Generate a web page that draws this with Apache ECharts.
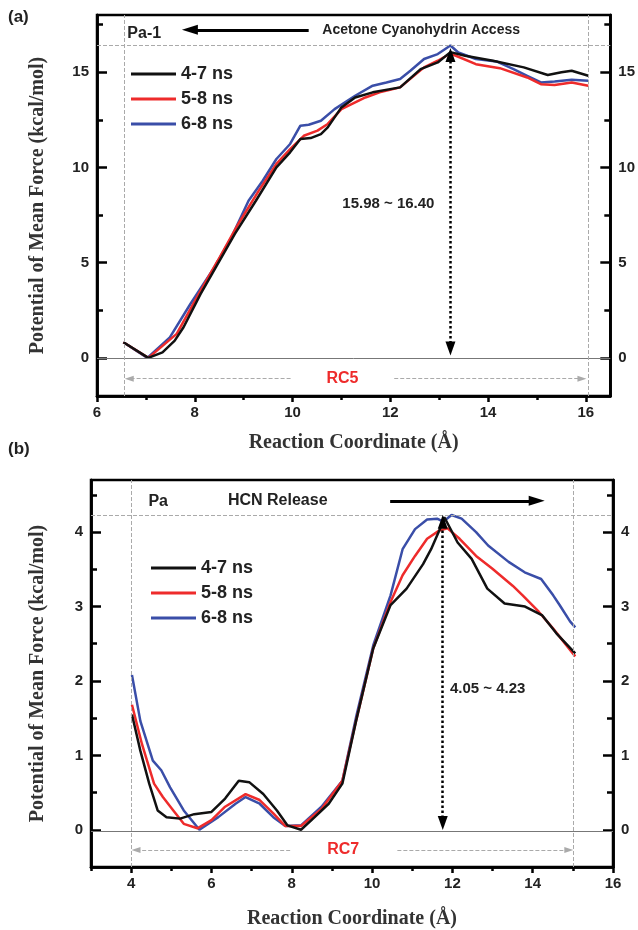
<!DOCTYPE html>
<html>
<head>
<meta charset="utf-8">
<script src="https://cdn.jsdelivr.net/npm/echarts@6/dist/echarts.min.js"></script>
<style>
  html, body { margin: 0; padding: 0; background: #fff; }
  #chart { width: 638px; height: 930px; }
</style>
</head>
<body>
<div id="chart"></div>
<script>
// ---- panel (a): Pa-1, RC5 ----
const aBlackX = [6.54, 7.05, 7.34, 7.59, 7.77, 8.12, 8.47, 8.82, 9.25, 9.67, 9.95, 10.16, 10.37, 10.58, 10.72, 11.0, 11.28, 11.64, 12.2, 12.62, 12.97, 13.23, 13.53, 14.1, 14.73, 15.22, 15.5, 15.71, 16.05];
const aBlackY = [0.82, 0.0, 0.29, 0.91, 1.61, 3.36, 4.93, 6.51, 8.25, 10.0, 10.79, 11.49, 11.54, 11.75, 12.1, 13.15, 13.67, 13.94, 14.2, 15.16, 15.51, 16.05, 15.86, 15.6, 15.25, 14.85, 14.99, 15.07, 14.81];
const aRedX = [6.54, 7.05, 7.63, 8.12, 8.47, 8.89, 9.31, 9.67, 9.95, 10.23, 10.51, 10.72, 11.0, 11.49, 11.78, 12.2, 12.69, 12.97, 13.23, 13.75, 14.24, 14.8, 15.08, 15.36, 15.71, 16.05];
const aRedY = [0.82, 0.0, 1.26, 3.53, 5.1, 7.03, 8.78, 10.18, 10.96, 11.66, 11.93, 12.28, 13.06, 13.67, 13.94, 14.2, 15.25, 15.6, 15.98, 15.42, 15.21, 14.72, 14.37, 14.32, 14.46, 14.29];
const aBlueX = [6.54, 7.03, 7.49, 7.91, 8.4, 8.75, 9.1, 9.39, 9.67, 9.95, 10.16, 10.33, 10.58, 10.86, 11.28, 11.64, 11.92, 12.2, 12.41, 12.69, 12.97, 13.23, 13.39, 13.75, 14.17, 14.52, 14.8, 15.08, 15.36, 15.71, 16.05];
const aBlueY = [0.82, 0.0, 1.08, 2.83, 4.75, 6.33, 8.25, 9.3, 10.44, 11.23, 12.19, 12.24, 12.45, 13.06, 13.76, 14.29, 14.46, 14.64, 15.07, 15.69, 15.95, 16.4, 16.03, 15.69, 15.56, 15.16, 14.81, 14.46, 14.51, 14.6, 14.55];

// ---- panel (b): Pa, RC7 ----
const bBlackX = [4.02, 4.23, 4.45, 4.66, 4.88, 5.22, 5.57, 6.0, 6.34, 6.68, 6.94, 7.29, 7.63, 7.89, 8.23, 8.57, 8.92, 9.26, 9.6, 10.03, 10.46, 10.86, 11.27, 11.47, 11.72, 11.8, 12.13, 12.48, 12.87, 13.3, 13.81, 14.24, 14.59, 15.06];
const bBlackY = [1.55, 1.06, 0.62, 0.26, 0.17, 0.15, 0.21, 0.24, 0.42, 0.66, 0.64, 0.48, 0.26, 0.06, 0.0, 0.17, 0.35, 0.62, 1.46, 2.44, 3.02, 3.24, 3.57, 3.77, 4.08, 4.2, 3.86, 3.64, 3.24, 3.04, 3.0, 2.88, 2.64, 2.37];
const bRedX = [4.02, 4.27, 4.57, 4.79, 5.05, 5.31, 5.65, 6.0, 6.34, 6.85, 7.2, 7.54, 7.84, 8.23, 8.74, 9.26, 9.6, 10.03, 10.46, 10.76, 11.07, 11.37, 11.67, 11.88, 12.18, 12.59, 12.99, 13.5, 13.75, 14.15, 14.5, 15.06];
const bRedY = [1.68, 1.15, 0.62, 0.44, 0.26, 0.08, 0.02, 0.13, 0.31, 0.48, 0.4, 0.22, 0.05, 0.05, 0.28, 0.66, 1.46, 2.44, 3.06, 3.42, 3.68, 3.91, 4.02, 4.05, 3.91, 3.68, 3.51, 3.28, 3.15, 2.93, 2.71, 2.33];
const bBlueX = [4.02, 4.23, 4.54, 4.75, 4.97, 5.31, 5.7, 6.17, 6.6, 6.85, 7.2, 7.54, 7.84, 8.23, 8.74, 9.26, 9.6, 10.03, 10.46, 10.76, 11.07, 11.37, 11.62, 11.77, 11.98, 12.23, 12.59, 12.89, 13.4, 13.8, 14.21, 14.51, 14.67, 14.93, 15.06];
const bBlueY = [2.08, 1.46, 0.93, 0.8, 0.57, 0.26, 0.0, 0.17, 0.35, 0.44, 0.35, 0.17, 0.05, 0.06, 0.31, 0.66, 1.51, 2.48, 3.15, 3.77, 4.04, 4.17, 4.18, 4.14, 4.23, 4.18, 4.0, 3.82, 3.6, 3.46, 3.37, 3.15, 3.02, 2.8, 2.72];

// ---- ticks ----
const aYTicks = [0, 5, 10, 15];
const aYMinor = [2.5, 7.5, 12.5, 17.5];
const aXTicks = [6, 8, 10, 12, 14, 16];
const aXMinor = [7, 9, 11, 13, 15];
const bYTicks = [0, 1, 2, 3, 4];
const bYMinor = [0.5, 1.5, 2.5, 3.5, 4.5];
const bXTicks = [4, 6, 8, 10, 12, 14, 16];
const bXMinor = [3, 5, 7, 9, 11, 13, 15];

const seriesNames = ['4-7 ns', '5-8 ns', '6-8 ns'];
const seriesColors = ['#111111', '#ee2b2b', '#3a4ea8'];

const sans = '"Liberation Sans", Arial, sans-serif';
const serif = '"Liberation Serif", "Times New Roman", serif';

const chart = echarts.init(document.getElementById('chart'));

const zip = (xs, ys) => xs.map((x, i) => [x, ys[i]]);

const frameLine = () => ({ show: true, onZero: false, lineStyle: { color: '#000', width: 2.5 } });
const tick = (values, len, inside) => ({ show: true, inside, customValues: values.slice(), length: len, lineStyle: { color: '#000', width: 2.5 } });
const tickLabel = (values, margin) => ({ customValues: values.slice(), margin, color: '#222', fontFamily: sans, fontWeight: 'bold', fontSize: 15 });
const titleStyle = () => ({ fontFamily: serif, fontWeight: 'bold', fontSize: 20, color: '#333' });
const noSplit = () => ({ show: true, lineStyle: { color: 'rgba(0,0,0,0)' } });

function makeXAxes(grid, min, max, major, minor, nameGap) {
  return [
    {
      gridIndex: grid, type: 'value', min, max, position: 'bottom',
      axisLine: frameLine(),
      axisTick: tick(major, 6, false),
      axisLabel: tickLabel(major, 9),
      splitLine: noSplit(),
      name: 'Reaction Coordinate (Å)', nameLocation: 'middle', nameGap,
      nameTextStyle: titleStyle()
    },
    {
      gridIndex: grid, type: 'value', min, max, position: 'bottom',
      axisLine: frameLine(),
      axisTick: tick(minor, 4, false),
      axisLabel: { show: false },
      splitLine: noSplit()
    }
  ];
}

function makeYAxes(grid, min, max, major, minor, nameGap) {
  const base = () => ({ gridIndex: grid, type: 'value', min, max, splitLine: noSplit(), axisLine: frameLine() });
  return [
    {
      ...base(), position: 'left', axisTick: tick(major, 10, true), axisLabel: tickLabel(major, 8),
      name: 'Potential of Mean Force (kcal/mol)', nameLocation: 'middle', nameGap, nameRotate: 90,
      nameTextStyle: titleStyle()
    },
    { ...base(), position: 'right', axisTick: tick(major, 10, true), axisLabel: tickLabel(major, 8) },
    { ...base(), position: 'left', axisTick: tick(minor, 6, true), axisLabel: { show: false } },
    { ...base(), position: 'right', axisTick: tick(minor, 6, true), axisLabel: { show: false } }
  ];
}

const guide = () => ({ color: '#aaa', width: 1, type: 'dashed' });

function arrow(from, to, style, size, both) {
  return [
    { coord: from, symbol: both ? 'triangle' : 'none', symbolSize: size, lineStyle: style },
    { coord: to, symbol: 'triangle', symbolSize: size }
  ];
}

const aMarks = [
  { yAxis: 0, lineStyle: { color: '#777', width: 1, type: 'solid' } },
  { yAxis: 16.4, lineStyle: guide() },
  { xAxis: 6.55, lineStyle: guide() },
  { xAxis: 16.05, lineStyle: guide() },
  arrow([13.23, 0.5], [13.23, 15.9], { color: '#000', width: 2.5, type: 'dotted' }, [10, 14], true),
  arrow([10.33, 17.22], [7.9, 17.22], { color: '#000', width: 3, type: 'solid' }, [10, 16], false),
  arrow([9.96, -1.09], [6.66, -1.09], guide(), [6, 9], false),
  arrow([12.08, -1.09], [15.92, -1.09], guide(), [6, 9], false)
];

const bMarks = [
  { yAxis: -0.02, lineStyle: { color: '#777', width: 1, type: 'solid' } },
  { yAxis: 4.23, lineStyle: guide() },
  { xAxis: 4.0, lineStyle: guide() },
  { xAxis: 15.0, lineStyle: guide() },
  arrow([11.76, 0.09], [11.76, 4.14], { color: '#000', width: 2.5, type: 'dotted' }, [10, 14], true),
  arrow([10.45, 4.42], [14.1, 4.42], { color: '#000', width: 3, type: 'solid' }, [10, 16], false),
  arrow([7.96, -0.27], [4.12, -0.27], guide(), [6, 9], false),
  arrow([10.63, -0.27], [14.9, -0.27], guide(), [6, 9], false)
];

function makeSeries(xIdx, yIdx, data, marks) {
  return data.map((d, i) => ({
    name: seriesNames[i],
    type: 'line',
    xAxisIndex: xIdx,
    yAxisIndex: yIdx,
    showSymbol: false,
    symbol: 'none',
    silent: true,
    color: seriesColors[i],
    lineStyle: { color: seriesColors[i], width: 2.5 },
    data: d,
    z: 3 - i,
    markLine: i === 0 ? {
      silent: true, symbol: 'none', label: { show: false }, animation: false, data: marks
    } : undefined
  }));
}

const legendAt = (left, top) => ({
  left, top,
  orient: 'vertical',
  icon: 'rect',
  itemWidth: 45,
  itemHeight: 3,
  itemGap: 7,
  padding: 0,
  data: seriesNames.slice(),
  selectedMode: false,
  textStyle: { fontFamily: sans, fontWeight: 'bold', fontSize: 18, color: '#222' }
});

chart.setOption({
  animation: false,
  backgroundColor: '#fff',
  grid: [
    { left: 97, top: 15, width: 515, height: 381, show: true, borderColor: '#000', borderWidth: 2.5 },
    { left: 91, top: 480, width: 522, height: 390, show: true, borderColor: '#000', borderWidth: 2.5 }
  ],
  legend: [legendAt(131, 65), legendAt(151, 559)],
  xAxis: [
    ...makeXAxes(0, 6, 16.5, aXTicks, aXMinor, 37),
    ...makeXAxes(1, 3, 16, bXTicks, bXMinor, 42)
  ],
  yAxis: [
    ...makeYAxes(0, -2, 18, aYTicks, aYMinor, 49),
    ...makeYAxes(1, -0.5, 4.7, bYTicks, bYMinor, 43)
  ],
  series: [
    ...makeSeries(0, 0, [zip(aBlackX, aBlackY), zip(aRedX, aRedY), zip(aBlueX, aBlueY)], aMarks),
    ...makeSeries(2, 4, [zip(bBlackX, bBlackY), zip(bRedX, bRedY), zip(bBlueX, bBlueY)], bMarks)
  ]
});

// text annotations anchored to data coordinates
const pa = (x, y) => chart.convertToPixel({ xAxisIndex: 0, yAxisIndex: 0 }, [x, y]);
const pb = (x, y) => chart.convertToPixel({ xAxisIndex: 2, yAxisIndex: 4 }, [x, y]);

function label(p, text, size, align, color) {
  return {
    type: 'text', x: p[0], y: p[1], silent: true,
    style: {
      text, fill: color || '#222', font: 'bold ' + size + 'px ' + sans,
      textAlign: align, textVerticalAlign: 'middle'
    }
  };
}

chart.setOption({
  graphic: [
    label([8, 17], '(a)', 17, 'left'),
    label([8, 449], '(b)', 17, 'left'),
    label(pa(6.62, 17.0), 'Pa-1', 16, 'left'),
    label(pa(10.61, 17.22), 'Acetone Cyanohydrin Access', 14, 'left'),
    label(pa(11.96, 8.1), '15.98 ~ 16.40', 15, 'center'),
    label(pa(11.02, -1.09), 'RC5', 16, 'center', '#ee2b2b'),
    label(pb(4.43, 4.41), 'Pa', 16, 'left'),
    label(pb(6.41, 4.42), 'HCN Release', 16, 'left'),
    label(pb(11.94, 1.89), '4.05 ~ 4.23', 15, 'left'),
    label(pb(9.28, -0.27), 'RC7', 16, 'center', '#ee2b2b')
  ]
});
</script>
</body>
</html>
